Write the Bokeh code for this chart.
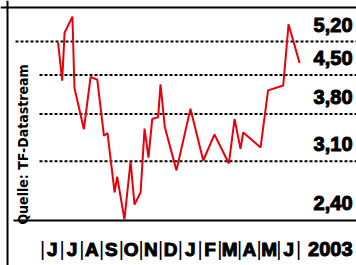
import numpy as np
from bokeh.plotting import figure
from bokeh.models import Range1d, Span
from bokeh.core.properties import value
from bokeh.embed import file_html
from bokeh.resources import INLINE

# ---- data -------------------------------------------------------------
# position in months since 1 June 2002 (fractional) and share price (EUR)
month_pos = [0.79, 1.00, 1.12, 1.52, 1.62, 2.10, 2.44, 2.78, 3.12, 3.30,
             3.66, 3.79, 4.16, 4.47, 4.67, 4.98, 5.18, 5.38, 5.57, 5.87,
             5.99, 6.21, 6.80, 7.51, 8.16, 8.73, 9.46, 9.75, 10.05, 10.19,
             11.07, 11.45, 12.22, 12.49, 13.05]
price = [5.18, 4.39, 5.40, 5.79, 4.26, 3.56, 4.46, 4.41, 3.46, 3.50,
         2.71, 2.90, 2.41, 3.10, 2.57, 2.71, 3.57, 3.15, 3.72, 3.75,
         4.32, 3.59, 2.98, 3.89, 3.11, 3.48, 3.07, 3.72, 3.27, 3.51,
         3.29, 4.21, 4.30, 5.60, 4.74]
month_labels = ["J", "J", "A", "S", "O", "N", "D", "J", "F", "M", "A", "M", "J"]
year_label = "2003"
y_ticks = [5.2, 4.5, 3.8, 3.1, 2.4]
y_tick_labels = ["5,20", "4,50", "3,80", "3,10", "2,40"]
source_label = "Quelle: TF-Datastream"

# ---- layout helpers (picture pixel -> data) ----------------------------
W, H = 356, 265
PX_PER_MONTH = 19.7
MONTH0_PX = 42.0
PX_PER_LN = 1 / 0.00432
REF_PX, REF_VAL = 41.0, 5.2


def xd(px):
    return (px - MONTH0_PX) / PX_PER_MONTH


def yd(py):
    return REF_VAL * np.exp(-(py - REF_PX) / PX_PER_LN)


FONT = value("Liberation Sans")
NARROW = value("'DejaVu Sans Condensed', 'Liberation Sans', sans-serif")

p = figure(width=W, height=H,
           x_range=Range1d(xd(0), xd(W)), y_range=Range1d(yd(H), yd(0)),
           y_axis_type="log", x_axis_location=None, y_axis_location=None,
           toolbar_location=None, output_backend="svg", min_border=0,
           outline_line_color=None, background_fill_color="white",
           border_fill_color="white")
p.grid.visible = False

# frame lines
p.add_layout(Span(location=yd(7), dimension="width", line_color="black", line_width=2))
p.add_layout(Span(location=xd(7), dimension="height", line_color="black", line_width=2))

# grid lines (dashed) and baseline
grid_vals = y_ticks[:-1]
grid_x0 = [xd(15)] + [xd(39)] * (len(grid_vals) - 1)
p.segment(x0=grid_x0, x1=[xd(W + 4)] * len(grid_vals), y0=grid_vals, y1=grid_vals,
          line_color="black", line_width=2, line_dash="3 2")
p.segment(x0=[xd(13)], x1=[xd(W + 4)], y0=[y_ticks[-1]], y1=[y_ticks[-1]],
          line_color="black", line_width=2)

# price line
p.line(month_pos, price, line_color="#e8000b", line_width=2)

# y tick labels (above their grid lines, at the right)
p.text(x=[xd(352)] * len(y_ticks), y=y_ticks, text=y_tick_labels,
       text_align="right", text_baseline="middle", y_offset=-17,
       text_font=FONT, text_font_style="bold", text_font_size="20px",
       text_color="black", text_outline_color="black")

# month labels and separators
n = len(month_labels)
p.text(x=[i + 0.5 for i in range(n)], y=[y_ticks[-1]] * n, text=month_labels,
       text_align="center", text_baseline="middle", y_offset=29,
       text_font=FONT, text_font_style="bold", text_font_size="19px",
       text_color="black", text_outline_color="black")
p.text(x=list(range(n + 1)), y=[y_ticks[-1]] * (n + 1), text=["|"] * (n + 1),
       text_align="center", text_baseline="middle", y_offset=29,
       text_font=FONT, text_font_size="20px", text_color="black")
p.text(x=[xd(352)], y=[y_ticks[-1]], text=[year_label],
       text_align="right", text_baseline="middle", y_offset=29,
       text_font=FONT, text_font_style="bold", text_font_size="20px",
       text_color="black", text_outline_color="black")

# source label, rotated
p.text(x=[xd(22)], y=[yd(144)], text=[source_label], angle=np.pi / 2,
       text_align="center", text_baseline="middle",
       text_font=NARROW, text_font_style="bold", text_font_size="14px",
       text_color="black")

open("out.html", "w").write(file_html(p, INLINE))
